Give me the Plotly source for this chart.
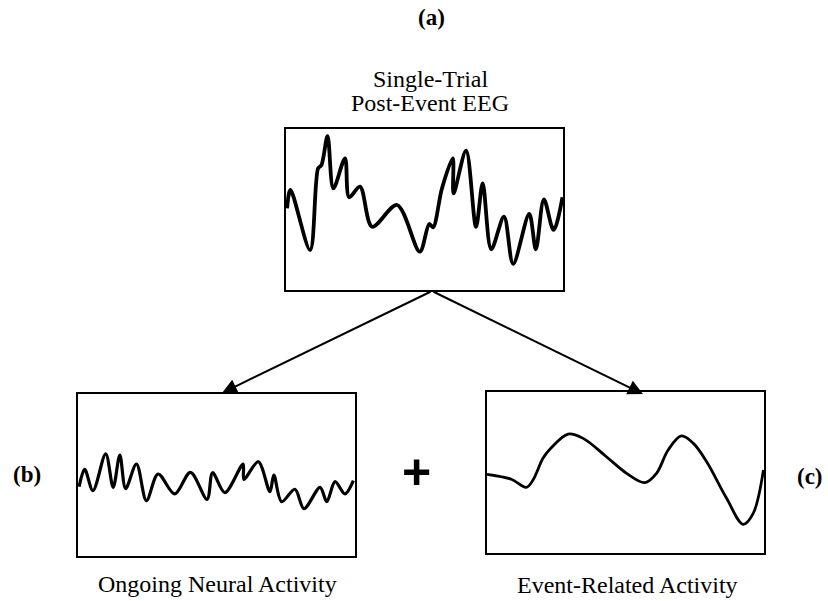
import plotly.graph_objects as go

# Single-trial post-event EEG (time in ms, amplitude in arbitrary units)
eeg_t = [4, 16, 87, 116, 128, 150, 171, 213, 228, 267, 311, 401, 483, 517, 531,
         563, 602, 605, 650, 686, 710, 741, 787, 820, 878, 902, 931, 966, 998]
eeg_amp = [0.7, 12.1, -25.2, 25.6, 27.6, 45.6, 13.1, 31.8, 7.6, 14.2, -10.7, 2.8,
           -26.2, -9.0, -11.1, 13.1, 31.8, 10.0, 36.5, -10.7, 16.2, -24.7, -4.5,
           -33.8, -2.8, -24.7, 6.3, -12.7, 7.6]

# Ongoing neural activity
ongoing_t = [4, 24, 54, 100, 127, 151, 172, 211, 247, 289, 349, 406, 466, 486,
             530, 596, 599, 651, 693, 707, 735, 783, 816, 874, 898, 928, 964, 994]
ongoing_amp = [-7.2, 3.5, -9.7, 13.0, -7.6, 12.3, -8.4, 6.8, -15.8, 0.6, -11.7,
               1.6, -15.0, 1.4, -10.9, 6.8, -2.7, 8.2, -10.3, 0.0, -16.5, -8.8,
               -20.8, -7.6, -16.5, -4.1, -11.7, -3.5]

# Event-related activity
erp_t = [0, 88, 142, 166, 202, 227, 293, 347, 431, 504, 570, 612, 654, 702,
         745, 793, 865, 925, 961, 998]
erp_amp = [-1.1, -4.2, -9.2, -4.7, 8.8, 14.4, 23.9, 21.2, 9.8, -0.5, -6.3, -0.5,
           14.0, 22.7, 18.1, 6.7, -16.0, -32.2, -25.4, 1.6]

W, H = 828, 601
SERIF = "Liberation Serif, Times New Roman, serif"


def px_x(a, b):
    return [a / W, b / W]


def px_y(top, bottom):
    return [1 - bottom / H, 1 - top / H]


fig = go.Figure()
fig.add_trace(go.Scatter(x=eeg_t, y=eeg_amp, mode="lines",
                         line=dict(color="black", width=3.8, shape="spline", smoothing=0.9),
                         xaxis="x", yaxis="y", showlegend=False))
fig.add_trace(go.Scatter(x=ongoing_t, y=ongoing_amp, mode="lines",
                         line=dict(color="black", width=3.2, shape="spline", smoothing=0.9),
                         xaxis="x2", yaxis="y2", showlegend=False))
fig.add_trace(go.Scatter(x=erp_t, y=erp_amp, mode="lines",
                         line=dict(color="black", width=2.8, shape="spline", smoothing=1.0),
                         xaxis="x3", yaxis="y3", showlegend=False))

frame = dict(showline=True, mirror=True, linecolor="black", linewidth=2,
             showticklabels=False, ticks="", showgrid=False, zeroline=False,
             fixedrange=True)

fig.update_layout(
    width=W, height=H, autosize=False,
    margin=dict(l=0, r=0, t=0, b=0),
    paper_bgcolor="white", plot_bgcolor="white",
    xaxis=dict(domain=px_x(286, 563), range=[0, 1000], anchor="y", **frame),
    yaxis=dict(domain=px_y(129, 290), range=[-50, 50], anchor="x", **frame),
    xaxis2=dict(domain=px_x(78, 355), range=[0, 1000], anchor="y2", **frame),
    yaxis2=dict(domain=px_y(394, 556), range=[-50, 50], anchor="x2", **frame),
    xaxis3=dict(domain=px_x(487, 764), range=[0, 1000], anchor="y3", **frame),
    yaxis3=dict(domain=px_y(392, 553), range=[-50, 50], anchor="x3", **frame),
)

texts = [
    ("<b>(a)</b>", 431, 18, 23),
    ("Single-Trial", 430, 79, 24),
    ("Post-Event EEG", 430, 103, 24),
    ("<b>(b)</b>", 27, 474, 23),
    ("<b>(c)</b>", 810, 476, 23),
    ("Ongoing Neural Activity", 217, 584, 24),
    ("Event-Related Activity", 627, 585, 24),
]
for txt, x, y, size in texts:
    fig.add_annotation(text=txt, x=x / W, y=1 - y / H, xref="paper", yref="paper",
                       xanchor="center", yanchor="middle", showarrow=False,
                       font=dict(family=SERIF, size=size, color="black"))

fig.add_annotation(text="<b>+</b>", x=416 / W, y=1 - 472 / H, xref="paper", yref="paper",
                   xanchor="center", yanchor="middle", showarrow=False,
                   font=dict(family="Liberation Sans, Arial, sans-serif", size=50, color="black"))

# Arrows splitting the single trial into its two components
src_x, src_y = 432, 291
for tip_x, tip_y in [(222, 393), (643, 394)]:
    fig.add_annotation(x=tip_x / W, y=1 - tip_y / H, xref="paper", yref="paper",
                       ax=src_x - tip_x, ay=src_y - tip_y,
                       text="", showarrow=True, arrowhead=2, arrowsize=1.5,
                       arrowwidth=2, arrowcolor="black", standoff=0)

fig.write_html("out.html")
